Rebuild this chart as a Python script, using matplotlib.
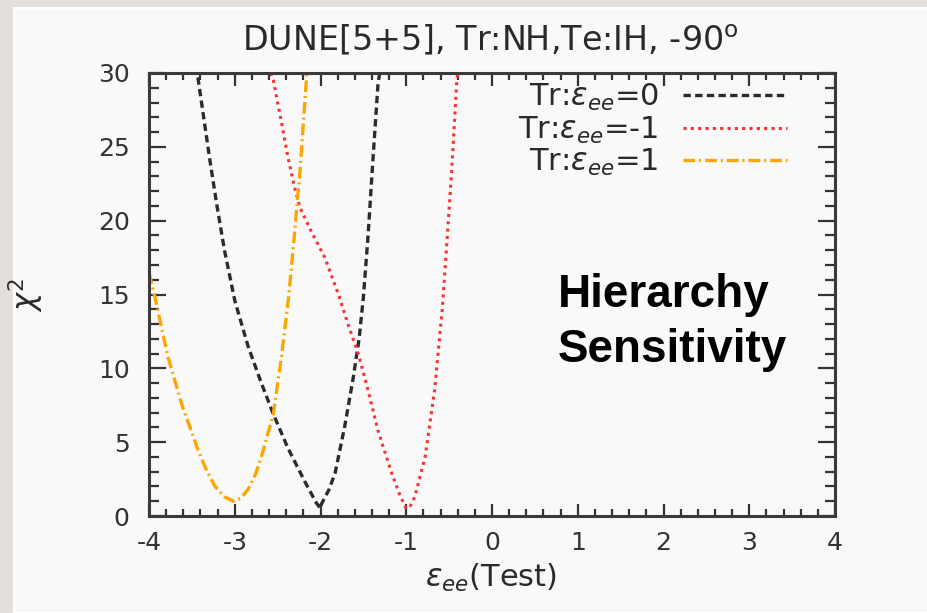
import matplotlib
matplotlib.use("Agg")
import matplotlib.pyplot as plt
import matplotlib.patches as mpatches
from matplotlib.ticker import MultipleLocator, FuncFormatter

plt.rcParams["mathtext.fontset"] = "dejavusans"

# chi^2 vs test eps_ee
X_TR0 = [-3.43, -3.35, -3.29, -3.21, -3.12, -3.00, -2.845, -2.69, -2.55, -2.38,
         -2.18, -2.05, -2.00, -1.99, -1.90, -1.83, -1.72, -1.62, -1.55, -1.50,
         -1.445, -1.39, -1.33, -1.31]
Y_TR0 = [29.7, 26.5, 24.1, 21.1, 18.0, 14.6, 11.5, 9.0, 6.9, 4.6,
         2.3, 0.9, 0.5, 0.8, 1.8, 2.9, 6.0, 9.3, 12.0, 14.8,
         19.0, 24.0, 29.2, 30.0]

X_TRM1 = [-2.58, -2.55, -2.46, -2.38, -2.30, -2.24, -2.11, -1.95, -1.79, -1.68,
          -1.56, -1.445, -1.33, -1.17, -1.08, -1.00, -0.95, -0.90, -0.78, -0.67,
          -0.58, -0.53, -0.47, -0.41, -0.40]
Y_TRM1 = [30.0, 29.5, 26.8, 24.3, 22.2, 20.9, 19.3, 17.5, 15.0, 13.0,
          11.0, 8.5, 5.8, 2.9, 1.5, 0.5, 0.7, 1.3, 4.0, 8.5,
          14.0, 18.2, 23.4, 29.5, 30.0]

X_TRP1 = [-4.00, -3.93, -3.78, -3.62, -3.43, -3.33, -3.23, -3.12, -3.02, -2.93,
          -2.845, -2.76, -2.69, -2.55, -2.46, -2.37, -2.30, -2.24, -2.20, -2.165, -2.16]
Y_TRP1 = [16.5, 14.8, 10.8, 7.6, 4.5, 3.1, 2.0, 1.3, 1.0, 1.2,
          1.8, 2.8, 4.0, 6.9, 10.6, 14.9, 19.3, 23.3, 26.6, 29.5, 30.0]

LABELS = [r"Tr:$\varepsilon_{ee}$=0", r"Tr:$\varepsilon_{ee}$=-1", r"Tr:$\varepsilon_{ee}$=1"]
X_TICKS = [-4, -3, -2, -1, 0, 1, 2, 3, 4]
Y_TICKS = [0, 5, 10, 15, 20, 25, 30]

W, H = 927, 613
fig = plt.figure(figsize=(W / 100, H / 100), dpi=100)
fig.patch.set_facecolor("#e3dfda")
# slide panel
fig.add_artist(mpatches.Rectangle((14 / W, 0), 1, 1 - 8 / H, transform=fig.transFigure,
                                  facecolor="#f9f9f9", edgecolor="white", linewidth=1.5, zorder=0))

ax = fig.add_axes([149 / W, 1 - 516 / H, (835 - 149) / W, (516 - 73) / H])
ax.set_facecolor("#f9f9f9")

ax.plot(X_TR0, Y_TR0, color="#2b2b2b", linewidth=2.4, linestyle=(0, (2.2, 1.3)), label=LABELS[0])
ax.plot(X_TRM1, Y_TRM1, color="#ff3030", linewidth=2.2, linestyle=(0, (1, 1.4)), label=LABELS[1])
ax.plot(X_TRP1, Y_TRP1, color="#ffa500", linewidth=2.4,
        linestyle=(0, (3.5, 1.2, 0.6, 1.2)), label=LABELS[2])

ax.set_xlim(-4, 4)
ax.set_ylim(0, 30)
ax.set_xticks(X_TICKS)
ax.set_yticks(Y_TICKS)
ax.xaxis.set_minor_locator(MultipleLocator(0.2))
ax.yaxis.set_minor_locator(MultipleLocator(1))
ax.xaxis.set_major_formatter(FuncFormatter(lambda v, p: "%d" % v))
ax.yaxis.set_major_formatter(FuncFormatter(lambda v, p: "%d" % v))

ax.tick_params(which="both", direction="in", top=True, right=True, color="#333333", width=1.6)
ax.tick_params(axis="x", which="major", length=9, labelsize=18, pad=11, labelcolor="#333333")
ax.tick_params(axis="x", which="minor", length=5)
ax.tick_params(axis="y", which="major", length=12, labelsize=18, pad=14, labelcolor="#333333")
ax.tick_params(axis="y", which="minor", length=7)
for s in ax.spines.values():
    s.set_linewidth(2.2)
    s.set_color("#3a3a3a")

leg = ax.legend(loc="upper right", bbox_to_anchor=(0.93, 0.98), frameon=False,
                markerfirst=False, fontsize=22, handlelength=3.4, handletextpad=0.8,
                labelspacing=0.05, borderpad=0, borderaxespad=0)
for t in leg.get_texts():
    t.set_color("#2a2a2a")

ax.text(0.596, 0.471, "Hierarchy", transform=ax.transAxes, fontsize=33, fontweight="bold",
        family="Liberation Sans", color="black", ha="left", va="baseline")
ax.text(0.596, 0.347, "Sensitivity", transform=ax.transAxes, fontsize=33, fontweight="bold",
        family="Liberation Sans", color="black", ha="left", va="baseline")

fig.text(490 / W, 1 - 40 / H, r"DUNE[5+5], Tr:NH,Te:IH, -90$^{\rm o}$", ha="center", va="center",
         fontsize=24, color="#2a2a2a")
fig.text(491 / W, 1 - 578 / H, r"$\varepsilon_{ee}$(Test)", ha="center", va="center",
         fontsize=22, color="#2a2a2a")
fig.text(26 / W, 1 - 295 / H, r"$\chi^2$", ha="center", va="center", rotation=90,
         fontsize=22, color="#2a2a2a")

fig.savefig("out.png", dpi=100, facecolor=fig.get_facecolor())
